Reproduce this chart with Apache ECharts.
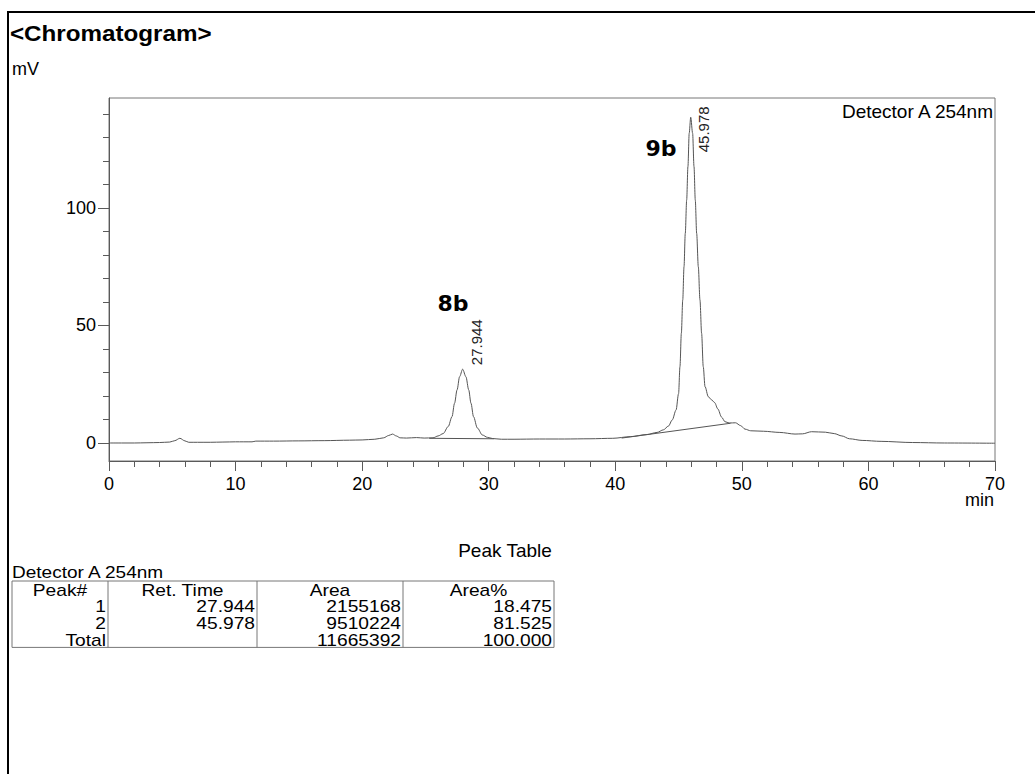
<!DOCTYPE html>
<html>
<head>
<meta charset="utf-8">
<title>Chromatogram</title>
<script src="https://cdn.jsdelivr.net/npm/echarts@6/dist/echarts.min.js"></script>
<style>
  html, body { margin: 0; padding: 0; background: #fff; }
  #chart { width: 1035px; height: 774px; }
</style>
</head>
<body>
<div id="chart"></div>
<script>
// trace: retention time (min) / signal (mV)
var retTime = [0, 1, 2, 3, 4, 4.8, 5.2, 5.6, 6.0, 6.3, 7, 8, 9, 10, 11.3, 11.6, 13, 15, 17, 19, 20, 21, 21.7, 22.1, 22.4, 22.7, 23.0, 23.5, 24.3, 24.9, 25.6, 26.0, 26.4, 26.8, 27.1, 27.3, 27.5, 27.7, 27.94, 28.2, 28.42, 28.6, 28.8, 29.1, 29.5, 29.9, 30.3, 31.0, 32, 34, 36, 38, 39.8, 41.2, 42.5, 43.3, 43.8, 44.2, 44.5, 44.8, 45.0, 45.11, 45.22, 45.33, 45.43, 45.53, 45.64, 45.74, 45.84, 45.96, 46.11, 46.22, 46.32, 46.43, 46.56, 46.69, 46.82, 46.95, 47.09, 47.35, 47.6, 47.85, 48.1, 48.4, 48.66, 49.0, 49.5, 49.9, 50.25, 50.7, 51.7, 53.0, 54.2, 54.8, 55.5, 56.6, 57.3, 57.9, 58.5, 59.5, 61, 63.5, 66, 70];
var signal  = [0, 0, 0, 0.1, 0.2, 0.4, 1.0, 2.0, 0.9, 0.3, 0.3, 0.3, 0.4, 0.5, 0.5, 0.8, 0.8, 0.9, 1.0, 1.2, 1.3, 1.6, 2.2, 3.2, 3.8, 3.0, 2.2, 2.1, 2.3, 2.1, 2.2, 3.0, 4.0, 7.0, 11.2, 16.9, 22.6, 28.2, 31.4, 28.2, 22.6, 16.9, 11.2, 6.4, 3.4, 2.4, 1.9, 1.6, 1.6, 1.7, 1.7, 1.8, 2.0, 2.7, 3.6, 4.5, 5.6, 7.2, 9.8, 14.0, 21.0, 32.5, 46.7, 60.9, 75.0, 89.2, 103.4, 117.6, 131.8, 138.6, 131.8, 117.6, 103.4, 89.2, 75.0, 60.9, 46.7, 32.5, 24.0, 19.7, 18.4, 17.2, 14.5, 11.0, 9.1, 8.5, 8.6, 7.4, 5.9, 5.2, 5.0, 4.5, 3.8, 3.9, 4.8, 4.6, 4.0, 3.0, 1.8, 1.1, 0.7, 0.2, 0, -0.1];

// integration baselines drawn under each peak
var base1 = [[25.3, 2.0], [30.4, 1.8]];
var base2 = [[40.5, 2.1], [49.1, 8.4]];

// peaks
var peakTimes   = [27.944, 45.978];
var peakHeights = [31.4, 138.6];
var compoundNames = ['8b', '9b'];
var compoundAt    = [[27.18, 59.4], [43.61, 125.1]];

// axes
var xLabels = [0, 10, 20, 30, 40, 50, 60, 70];
var yMajor  = [0, 50, 100];
var yMinor  = [0, 10, 20, 30, 40, 50, 60, 70, 80, 90, 100, 110, 120, 130, 140];

// peak table
var tableHead = ['Peak#', 'Ret. Time', 'Area', 'Area%'];
var peakNo    = ['1', '2'];
var areas     = ['2155168', '9510224'];
var areaPct   = ['18.475', '81.525'];
var totalRow  = ['Total', '', '11665392', '100.000'];

var FONT = '"Liberation Sans", Arial, sans-serif';
var AXIS_GRAY = '#5a5a5a';

var chart = echarts.init(document.getElementById('chart'), null, { renderer: 'svg' });

var trace = retTime.map(function (t, i) { return [t, signal[i]]; });
var peakData = peakTimes.map(function (t, i) { return [t, peakHeights[i]]; });
// where each rotated time label starts, relative to the apex (px)
var peakLabelShift = [[14, -4], [13, 35]];

// table drawing
var colEdges = [12, 108, 257, 403, 554];
var tableTop = 581, rowH = 16.6;
var rows = [tableHead];
peakNo.forEach(function (n, i) {
  rows.push([n, peakTimes[i].toFixed(3), areas[i], areaPct[i]]);
});
rows.push(totalRow);

var graphics = [
  { type: 'rect', shape: { x: 8, y: 12, width: 1100, height: 900 },
    style: { fill: 'none', stroke: '#000', lineWidth: 2 } },
  { type: 'text', x: 10, y: 33, scaleX: 1.1,
    style: { text: '<Chromatogram>', font: 'bold 22px ' + FONT, fill: '#000', verticalAlign: 'middle' } },
  { type: 'text', x: 12, y: 69,
    style: { text: 'mV', font: '18px ' + FONT, fill: '#000', verticalAlign: 'middle' } },
  { type: 'text', x: 993, y: 111,
    style: { text: 'Detector A 254nm', font: '19px ' + FONT, fill: '#000', align: 'right', verticalAlign: 'middle' } },
  { type: 'text', x: 994, y: 500,
    style: { text: 'min', font: '18px ' + FONT, fill: '#000', align: 'right', verticalAlign: 'middle' } },
  { type: 'text', x: 505, y: 550,
    style: { text: 'Peak Table', font: '19px ' + FONT, fill: '#000', align: 'center', verticalAlign: 'middle' } },
  { type: 'text', x: 12, y: 572, scaleX: 1.12,
    style: { text: 'Detector A 254nm', font: '17px ' + FONT, fill: '#000', verticalAlign: 'middle' } },
  { type: 'rect', shape: { x: colEdges[0], y: tableTop, width: colEdges[4] - colEdges[0], height: rowH * rows.length },
    style: { fill: 'none', stroke: '#777', lineWidth: 1 } }
];
for (var c = 1; c < colEdges.length - 1; c++) {
  graphics.push({ type: 'line', shape: { x1: colEdges[c], y1: tableTop, x2: colEdges[c], y2: tableTop + rowH * rows.length },
    style: { stroke: '#777', lineWidth: 1 } });
}
rows.forEach(function (row, r) {
  row.forEach(function (txt, c) {
    if (!txt) return;
    var head = r === 0;
    graphics.push({
      type: 'text',
      x: head ? (colEdges[c] + colEdges[c + 1]) / 2 : colEdges[c + 1] - 2,
      y: tableTop + rowH * r + rowH / 2 + 1,
      scaleX: 1.2,
      style: { text: txt, font: '16px ' + FONT, fill: '#000', align: head ? 'center' : 'right', verticalAlign: 'middle' }
    });
  });
});

var tickLabel = { fontSize: 18, fontFamily: FONT, color: '#000' };

chart.setOption({
  animation: false,
  grid: { left: 109, right: 40, top: 98, bottom: 313, show: true, borderColor: '#777', borderWidth: 1 },
  xAxis: {
    type: 'value', min: 0, max: 70, interval: 10,
    axisLine: { onZero: false, lineStyle: { color: AXIS_GRAY } },
    axisTick: { length: 10, lineStyle: { color: AXIS_GRAY } },
    minorTick: { show: true, splitNumber: 5, length: 6, lineStyle: { color: AXIS_GRAY } },
    axisLabel: Object.assign({ margin: 14, customValues: xLabels }, tickLabel),
    splitLine: { show: false }
  },
  yAxis: [{
    type: 'value', min: -7.66, max: 146.8,
    axisLine: { show: true, onZero: false, lineStyle: { color: AXIS_GRAY } },
    axisTick: { show: true, length: 6, customValues: yMinor, lineStyle: { color: AXIS_GRAY } },
    axisLabel: { show: false },
    splitLine: { show: false }
  }, {
    type: 'value', min: -7.66, max: 146.8, position: 'left',
    axisLine: { show: false, onZero: false },
    axisTick: { show: true, length: 11, customValues: yMajor, lineStyle: { color: AXIS_GRAY } },
    axisLabel: Object.assign({ margin: 13, customValues: yMajor }, tickLabel),
    splitLine: { show: false }
  }],
  series: [{
    type: 'line', data: trace, showSymbol: false, smooth: 0.3, smoothMonotone: 'x',
    lineStyle: { color: '#555', width: 1 }
  }, {
    type: 'line', data: base1, showSymbol: false, lineStyle: { color: '#555', width: 1 }
  }, {
    type: 'line', data: base2, showSymbol: false, lineStyle: { color: '#555', width: 1 }
  }, {
    type: 'custom', data: peakData, clip: false,
    renderItem: function (params, api) {
      var p = api.coord([api.value(0), api.value(1)]);
      var s = peakLabelShift[params.dataIndex];
      return {
        type: 'text', x: p[0] + s[0], y: p[1] + s[1], rotation: Math.PI / 2,
        style: { text: peakTimes[params.dataIndex].toFixed(3), font: '15px ' + FONT, fill: '#222',
          align: 'left', verticalAlign: 'middle' }
      };
    }
  }, {
    type: 'custom', data: compoundAt, clip: false,
    renderItem: function (params, api) {
      var p = api.coord([api.value(0), api.value(1)]);
      return {
        type: 'text', x: p[0], y: p[1],
        style: { text: compoundNames[params.dataIndex], font: 'bold 22px "DejaVu Sans", Verdana, sans-serif',
          fill: '#000', align: 'center', verticalAlign: 'middle' }
      };
    }
  }],
  graphic: graphics
});

window.addEventListener('resize', function () { chart.resize(); });
</script>
</body>
</html>
